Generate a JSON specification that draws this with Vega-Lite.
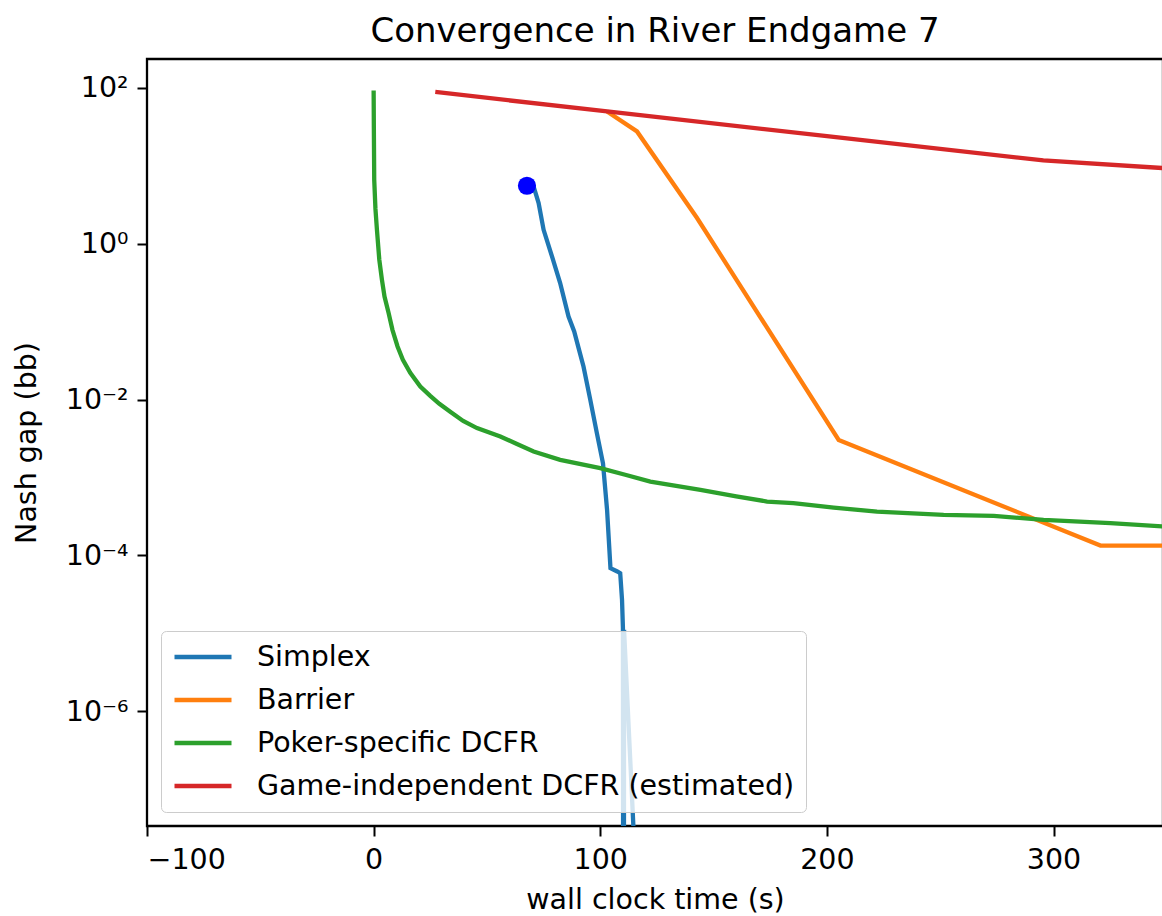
{
  "$schema": "https://vega.github.io/schema/vega-lite/v6.json",
  "width": 1016,
  "height": 767,
  "autosize": {"type": "none"},
  "padding": {"left": 147, "top": 59, "right": 0, "bottom": 90},
  "background": "white",
  "title": {
    "text": "Convergence in River Endgame 7",
    "fontSize": 34,
    "font": "DejaVu Sans",
    "fontWeight": "normal",
    "color": "black",
    "frame": "group",
    "anchor": "middle",
    "offset": 10
  },
  "config": {
    "font": "DejaVu Sans",
    "view": {"stroke": "black", "strokeWidth": 2.3},
    "axis": {
      "grid": false,
      "domain": false,
      "tickColor": "black",
      "tickWidth": 2,
      "tickSize": 10,
      "labelFontSize": 28.5,
      "labelColor": "black",
      "labelPadding": 9,
      "titleFontSize": 28.5,
      "titleFontWeight": "normal",
      "titleColor": "black"
    }
  },
  "layer": [
    {
      "data": {
        "values": [
          {"s": "Simplex", "t": 67.7, "v": 5.56},
          {"s": "Simplex", "t": 70.6, "v": 5.4},
          {"s": "Simplex", "t": 72.8, "v": 3.33},
          {"s": "Simplex", "t": 75.0, "v": 1.51},
          {"s": "Simplex", "t": 78.7, "v": 0.687},
          {"s": "Simplex", "t": 82.3, "v": 0.313},
          {"s": "Simplex", "t": 86.0, "v": 0.1164},
          {"s": "Simplex", "t": 88.5, "v": 0.075},
          {"s": "Simplex", "t": 90.5, "v": 0.045},
          {"s": "Simplex", "t": 92.6, "v": 0.0265},
          {"s": "Simplex", "t": 95.6, "v": 0.00991},
          {"s": "Simplex", "t": 98.5, "v": 0.0037},
          {"s": "Simplex", "t": 101.2, "v": 0.00152},
          {"s": "Simplex", "t": 103.0, "v": 0.000383},
          {"s": "Simplex", "t": 104.5, "v": 0.0000682},
          {"s": "Simplex", "t": 107.5, "v": 0.000062},
          {"s": "Simplex", "t": 108.8, "v": 0.0000589},
          {"s": "Simplex", "t": 109.6, "v": 0.0000267},
          {"s": "Simplex", "t": 110.0, "v": 0.0000116},
          {"s": "Simplex", "t": 110.3, "v": 1e-16},
          {"s": "Simplex", "t": 110.5, "v": 0.000011},
          {"s": "Simplex", "t": 122.0, "v": 1e-12},
          {"s": "Barrier", "t": 103.0, "v": 50.0},
          {"s": "Barrier", "t": 116.2, "v": 27.7},
          {"s": "Barrier", "t": 142.7, "v": 2.14},
          {"s": "Barrier", "t": 205.2, "v": 0.00303},
          {"s": "Barrier", "t": 320.7, "v": 0.0001333},
          {"s": "Barrier", "t": 348.3, "v": 0.0001333},
          {"s": "Poker-specific DCFR", "t": 0.0, "v": 93.1},
          {"s": "Poker-specific DCFR", "t": 0.1, "v": 30.0},
          {"s": "Poker-specific DCFR", "t": 0.26, "v": 6.64},
          {"s": "Poker-specific DCFR", "t": 0.8, "v": 2.8},
          {"s": "Poker-specific DCFR", "t": 1.46, "v": 1.51},
          {"s": "Poker-specific DCFR", "t": 2.5, "v": 0.623},
          {"s": "Poker-specific DCFR", "t": 3.66, "v": 0.345},
          {"s": "Poker-specific DCFR", "t": 4.8, "v": 0.21},
          {"s": "Poker-specific DCFR", "t": 6.58, "v": 0.13},
          {"s": "Poker-specific DCFR", "t": 8.3, "v": 0.0785},
          {"s": "Poker-specific DCFR", "t": 10.55, "v": 0.048},
          {"s": "Poker-specific DCFR", "t": 12.9, "v": 0.0324},
          {"s": "Poker-specific DCFR", "t": 16.15, "v": 0.022},
          {"s": "Poker-specific DCFR", "t": 20.6, "v": 0.0147},
          {"s": "Poker-specific DCFR", "t": 24.98, "v": 0.01114},
          {"s": "Poker-specific DCFR", "t": 29.0, "v": 0.0088},
          {"s": "Poker-specific DCFR", "t": 33.8, "v": 0.00695},
          {"s": "Poker-specific DCFR", "t": 39.5, "v": 0.0053},
          {"s": "Poker-specific DCFR", "t": 45.6, "v": 0.0043},
          {"s": "Poker-specific DCFR", "t": 55.9, "v": 0.00335},
          {"s": "Poker-specific DCFR", "t": 63.0, "v": 0.0027},
          {"s": "Poker-specific DCFR", "t": 70.6, "v": 0.00215},
          {"s": "Poker-specific DCFR", "t": 82.3, "v": 0.00168},
          {"s": "Poker-specific DCFR", "t": 100.0, "v": 0.001315},
          {"s": "Poker-specific DCFR", "t": 111.0, "v": 0.00108},
          {"s": "Poker-specific DCFR", "t": 122.1, "v": 0.000885},
          {"s": "Poker-specific DCFR", "t": 144.2, "v": 0.000692},
          {"s": "Poker-specific DCFR", "t": 160.0, "v": 0.00057},
          {"s": "Poker-specific DCFR", "t": 173.6, "v": 0.00049},
          {"s": "Poker-specific DCFR", "t": 185.2, "v": 0.000467},
          {"s": "Poker-specific DCFR", "t": 203.0, "v": 0.00041},
          {"s": "Poker-specific DCFR", "t": 222.1, "v": 0.000364},
          {"s": "Poker-specific DCFR", "t": 251.5, "v": 0.00033},
          {"s": "Poker-specific DCFR", "t": 273.6, "v": 0.00032},
          {"s": "Poker-specific DCFR", "t": 295.6, "v": 0.000285},
          {"s": "Poker-specific DCFR", "t": 325.1, "v": 0.000258},
          {"s": "Poker-specific DCFR", "t": 348.3, "v": 0.000234},
          {"s": "Game-independent DCFR (estimated)", "t": 27.2, "v": 88.9},
          {"s": "Game-independent DCFR (estimated)", "t": 103.0, "v": 50.0},
          {"s": "Game-independent DCFR (estimated)", "t": 200.0, "v": 24.1},
          {"s": "Game-independent DCFR (estimated)", "t": 295.5, "v": 11.75},
          {"s": "Game-independent DCFR (estimated)", "t": 348.3, "v": 9.38}
        ]
      },
      "mark": {"type": "line", "clip": true, "strokeWidth": 4.3},
      "encoding": {
        "x": {
          "field": "t",
          "type": "quantitative",
          "scale": {"domain": [-100, 348.3], "nice": false, "zero": false},
          "axis": {"values": [-100, 0, 100, 200, 300], "title": "wall clock time (s)", "titlePadding": 12}
        },
        "y": {
          "field": "v",
          "type": "quantitative",
          "scale": {"type": "log", "domain": [3.34e-8, 235.7], "nice": false},
          "axis": {
            "values": [0.000001, 0.0001, 0.01, 1, 100],
            "title": "Nash gap (bb)",
            "titlePadding": 24,
            "labelExpr": "datum.value > 10 ? '10²' : datum.value > 0.1 ? '10⁰' : datum.value > 0.001 ? '10⁻²' : datum.value > 0.00001 ? '10⁻⁴' : '10⁻⁶'"
          }
        },
        "color": {
          "field": "s",
          "type": "nominal",
          "scale": {
            "domain": ["Simplex", "Barrier", "Poker-specific DCFR", "Game-independent DCFR (estimated)"],
            "range": ["#1f77b4", "#ff7f0e", "#2ca02c", "#d62728"]
          },
          "legend": {
            "title": null,
            "orient": "bottom-left",
            "offset": 14,
            "symbolType": "stroke",
            "symbolSize": 3249,
            "symbolStrokeWidth": 4.3,
            "clipHeight": 30,
            "rowPadding": 13,
            "labelOffset": 23,
            "padding": 11,
            "labelFontSize": 28.5,
            "labelLimit": 1000,
            "labelColor": "black",
            "fillColor": "rgba(255,255,255,0.8)",
            "strokeColor": "#cccccc",
            "cornerRadius": 5
          }
        }
      }
    },
    {
      "data": {"values": [{"t": 67.65, "v": 5.56}]},
      "mark": {"type": "point", "filled": true, "color": "#0000ff", "size": 330, "opacity": 1},
      "encoding": {
        "x": {"field": "t", "type": "quantitative"},
        "y": {"field": "v", "type": "quantitative"}
      }
    }
  ]
}
